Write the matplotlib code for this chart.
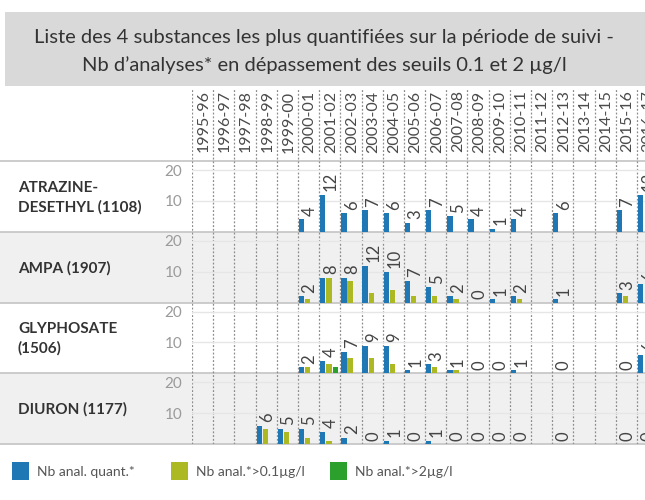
import numpy as np
import matplotlib.pyplot as plt
from matplotlib.patches import Rectangle
from matplotlib.transforms import blended_transform_factory

plt.rcParams["font.family"] = ["Lato", "DejaVu Sans"]

seasons = ["1995-96", "1996-97", "1997-98", "1998-99", "1999-00", "2000-01",
           "2001-02", "2002-03", "2003-04", "2004-05", "2005-06", "2006-07",
           "2007-08", "2008-09", "2009-10", "2010-11", "2011-12", "2012-13",
           "2013-14", "2014-15", "2015-16", "2016-17"]

substances = ["ATRAZINE-\nDESETHYL (1108)", "AMPA (1907)", "GLYPHOSATE\n(1506)", "DIURON (1177)"]

N = None
atrazine_quant = [N, N, N, N, N, 4, 12, 6, 7, 6, 3, 7, 5, 4, 1, 4, N, 6, N, N, 7, 12]
atrazine_01 = [N, N, N, N, N, 0, 0, 0, 0, 0, 0, 0, 0, 0, 0, 0, N, 0, N, N, 0, 0]
atrazine_2 = [N, N, N, N, N, 0, 0, 0, 0, 0, 0, 0, 0, 0, 0, 0, N, 0, N, N, 0, 0]

ampa_quant = [N, N, N, N, N, 2, 8, 8, 12, 10, 7, 5, 2, 0, 1, 2, N, 1, N, N, 3, 6]
ampa_01 = [N, N, N, N, N, 1, 8, 7, 3, 4, 2, 2, 1, 0, 0, 1, N, 0, N, N, 2, 0]
ampa_2 = [N, N, N, N, N, 0, 0, 0, 0, 0, 0, 0, 0, 0, 0, 0, N, 0, N, N, 0, 0]

glypho_quant = [N, N, N, N, N, 2, 4, 7, 9, 9, 1, 3, 1, 0, 0, 1, N, 0, N, N, 0, 6]
glypho_01 = [N, N, N, N, N, 2, 3, 5, 5, 3, 0, 2, 1, 0, 0, 0, N, 0, N, N, 0, 0]
glypho_2 = [N, N, N, N, N, 0, 2, 0, 0, 0, 0, 0, 0, 0, 0, 0, N, 0, N, N, 0, 0]

diuron_quant = [N, N, N, 6, 5, 5, 4, 2, 0, 1, 0, 1, 0, 0, 0, 0, N, 0, N, N, 0, 0]
diuron_01 = [N, N, N, 5, 4, 2, 1, 0, 0, 0, 0, 0, 0, 0, 0, 0, N, 0, N, N, 0, 0]
diuron_2 = [N, N, N, 0, 0, 0, 0, 0, 0, 0, 0, 0, 0, 0, 0, 0, N, 0, N, N, 0, 0]

rows = [
    (atrazine_quant, atrazine_01, atrazine_2),
    (ampa_quant, ampa_01, ampa_2),
    (glypho_quant, glypho_01, glypho_2),
    (diuron_quant, diuron_01, diuron_2),
]

legend_labels = ["Nb anal. quant.*", "Nb anal.*>0.1µg/l", "Nb anal.*>2µg/l"]
colors = ["#1f77b4", "#adb922", "#2ca02c"]
band_color = "#f0f0f0"
line_color = "#c8c8c8"
text_color = "#333333"

W, H = 645, 500
fig = plt.figure(figsize=(W / 100, H / 100), dpi=100)


def box(x0, y0, x1, y1):
    # pixel box (top-left origin) -> figure fraction
    return [x0 / W, 1 - y1 / H, (x1 - x0) / W, (y1 - y0) / H]


bg = fig.add_axes([0, 0, 1, 1])
bg.set_xlim(0, W)
bg.set_ylim(H, 0)
bg.axis("off")

# title box
bg.add_patch(Rectangle((5, 12), 640, 74, color="#d9d9d9", lw=0))
bg.text(324, 38, "Liste des 4 substances les plus quantifiées sur la période de suivi -",
        ha="center", va="center", fontsize=14.5, color=text_color)
bg.text(324, 65, "Nb d’analyses* en dépassement des seuils 0.1 et 2 µg/l",
        ha="center", va="center", fontsize=14.5, color=text_color)

plot_left, plot_right = 192, 645
col_w = 21.19
n_vis = (plot_right - plot_left) / col_w
row_top, row_bot = 161, 444
row_h = (row_bot - row_top) / len(rows)

for i, name in enumerate(substances):
    y0 = row_top + i * row_h
    if i % 2 == 1:
        bg.add_patch(Rectangle((0, y0), W, row_h, color=band_color, lw=0))
    bg.text(18, y0 + row_h / 2 + 1, name, ha="left", va="center", fontsize=11,
            fontweight="bold", color=text_color, linespacing=1.45)
for i in range(len(rows) + 1):
    bg.axhline(row_top + i * row_h, xmin=0, xmax=1, color=line_color, lw=1.3)

# header + dotted column separators
grid = fig.add_axes(box(plot_left, 88, plot_right, row_bot))
grid.set_xlim(0, n_vis)
grid.set_ylim(0, 1)
grid.axis("off")
grid.patch.set_alpha(0)
grid.vlines(np.arange(len(seasons)), 0, 1, colors="#8c8c8c", linestyles=(0, (1.5, 1.5)), lw=0.9)
hdr = blended_transform_factory(grid.transData, grid.transAxes)
for i, s in enumerate(seasons):
    grid.text(i + 0.55, 0.993, s, rotation=90, ha="center", va="top", fontsize=11.5,
              color="#4a4a4a", transform=hdr)

offsets = [0.17, 0.46, 0.77]
bw = 0.25
x = np.arange(len(seasons))
for i, series in enumerate(rows):
    y0 = row_top + i * row_h
    ax = fig.add_axes(box(plot_left, y0, plot_right, y0 + row_h))
    ax.patch.set_alpha(0)
    ax.set_xlim(0, n_vis)
    ax.set_ylim(0, 23)
    for s in ax.spines.values():
        s.set_visible(False)
    ax.set_xticks([])
    ax.set_yticks([10, 20])
    ax.tick_params(axis="y", length=0, pad=7, labelsize=11, labelcolor="#9a9a9a")
    ax.yaxis.grid(True, color="#e6e6e6", lw=1)
    ax.set_axisbelow(True)
    for vals, off, c in zip(series, offsets, colors):
        v = np.array([np.nan if a is None else a for a in vals], dtype=float)
        ax.bar(x + off, v, width=bw, color=c, lw=0, clip_on=False)
    quant = series[0]
    for j, q in enumerate(quant):
        if q is None:
            continue
        ax.annotate(str(q), (j + 0.55, q), xytext=(0, 2.5), textcoords="offset points",
                    rotation=90, ha="center", va="bottom", fontsize=12,
                    color="#444444", annotation_clip=False)

# legend
legend_x = [12, 171, 330]
for lx, lab, c in zip(legend_x, legend_labels, colors):
    bg.add_patch(Rectangle((lx, 462), 17, 18, color=c, lw=0))
    bg.text(lx + 25, 472, lab, ha="left", va="center", fontsize=10, color="#555555")

fig.savefig("out.png", dpi=100)
